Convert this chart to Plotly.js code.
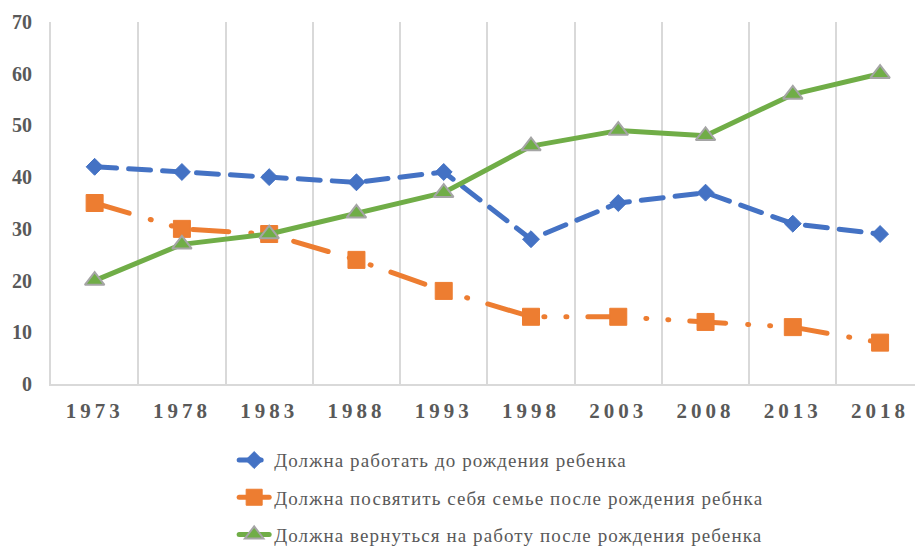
<!DOCTYPE html>
<html>
<head>
<meta charset="utf-8">
<script src="https://cdn.plot.ly/plotly-3.0.1.min.js"></script>
<style>
  html, body { margin: 0; padding: 0; background: #fff; }
  #chart { width: 915px; height: 549px; }
  .scatterlayer .js-line, .legendlines path { stroke-linecap: round; stroke-linejoin: round; }
  .xtick text { letter-spacing: 4px; }
  .legendtext { letter-spacing: 1.1px; }
</style>
</head>
<body>
<div id="chart"></div>
<script>
const years = ["1973", "1978", "1983", "1988", "1993", "1998", "2003", "2008", "2013", "2018"];
const workBefore = [42, 41, 40, 39, 41, 28, 35, 37, 31, 29];
const devoteFamily = [35, 30, 29, 24, 18, 13, 13, 12, 11, 8];
const returnWork = [20, 27, 29, 33, 37, 46, 49, 48, 56, 60];
const seriesNames = [
  "Должна работать до рождения ребенка",
  "Должна посвятить себя семье после рождения ребнка",
  "Должна вернуться на работу после рождения ребенка"
];
const yTicks = [0, 10, 20, 30, 40, 50, 60, 70];

const traces = [
  {
    x: years, y: workBefore, name: seriesNames[0], type: "scatter", mode: "lines+markers",
    legendgroup: "a",
    line: { color: "#4472C4", width: 5, dash: "22px,12px" },
    marker: { symbol: "diamond", size: 13, color: "#4472C4", line: { color: "#4472C4", width: 1 } }
  },
  {
    x: years, y: devoteFamily, name: seriesNames[1], type: "scatter", mode: "lines+markers",
    legendgroup: "b",
    line: { color: "#ED7D31", width: 5, dash: "36px,22px,1px,21px,1px,21px" },
    marker: { symbol: "square", size: 17, color: "#ED7D31", line: { color: "#ED7D31", width: 1 } }
  },
  {
    x: years, y: returnWork, name: seriesNames[2], type: "scatter", mode: "lines+markers",
    legendgroup: "c",
    line: { color: "#70AD47", width: 5 },
    marker: { symbol: "triangle-up", size: 17, color: "#70AD47", line: { color: "#A5A5A5", width: 2 } }
  }
];

const layout = {
  width: 915, height: 549,
  margin: { l: 51, r: 0, t: 22, b: 165, autoexpand: false },
  paper_bgcolor: "#fff", plot_bgcolor: "#fff",
  font: { family: "Liberation Serif, Times New Roman, serif", color: "#595959" },
  showlegend: true,
  legend: {
    orientation: "v", x: 0.212, xanchor: "left", y: -0.158, yanchor: "top",
    font: { size: 19, color: "#595959", family: "Liberation Serif, serif" },
    tracegroupgap: 9.5, bgcolor: "rgba(0,0,0,0)"
  },
  xaxis: {
    type: "category", range: [-0.5, 9.4],
    tickson: "boundaries", showgrid: true, gridcolor: "#D9D9D9", gridwidth: 2,
    showline: true, linecolor: "#D9D9D9", linewidth: 2,
    ticks: "", ticklabelstandoff: 7,
    tickfont: { size: 21, family: "Liberation Serif, serif", weight: "bold", color: "#595959" },
    zeroline: false, fixedrange: true
  },
  yaxis: {
    range: [0, 70], tickvals: yTicks, ticktext: yTicks.map(String),
    showgrid: false, zeroline: false,
    showline: true, linecolor: "#D9D9D9", linewidth: 2,
    ticks: "outside", ticklen: 13, tickcolor: "rgba(0,0,0,0)",
    tickfont: { size: 20, family: "Liberation Serif, serif", weight: "bold", color: "#595959" },
    fixedrange: true
  }
};

Plotly.newPlot("chart", traces, layout, { displayModeBar: false, staticPlot: true });
</script>
</body>
</html>
